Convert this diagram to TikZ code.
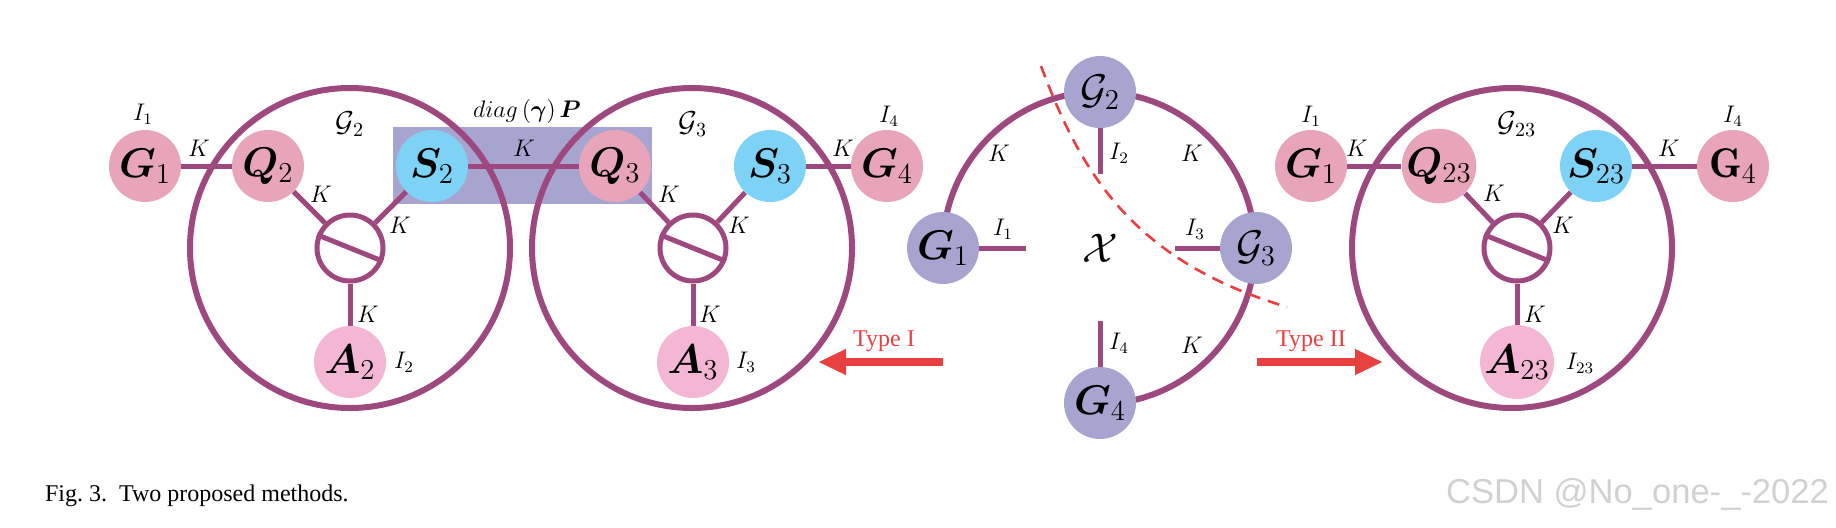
\documentclass[tikz,border=0pt]{standalone}
\usepackage{amsmath,amssymb,bm}
\usepackage{fontspec}
\newfontfamily\capfont{Liberation Serif}
\newfontfamily\wmfont{Liberation Sans}
\usetikzlibrary{arrows.meta}
\definecolor{plum}{RGB}{158,72,128}
\definecolor{rosa}{RGB}{232,165,185}
\definecolor{rosaA}{RGB}{243,182,212}
\definecolor{azul}{RGB}{125,210,245}
\definecolor{lila}{RGB}{167,165,207}
\definecolor{verm}{RGB}{232,64,63}
\begin{document}
\begin{tikzpicture}[x=0.5pt,y=-0.5pt]
        \tikzstyle{no}=[circle, minimum size=36pt, inner sep=0pt, font=\huge]
        \tikzstyle{rosa}=[no, fill=rosa]
        \tikzstyle{rosaA}=[no, fill=rosaA]
        \tikzstyle{azul}=[no, fill=azul]
        \tikzstyle{lila}=[no, fill=lila]
        \tikzstyle{anel}=[circle, draw=plum, line width=2.5pt, minimum size=33pt, inner sep=0pt]
        \tikzstyle{aresta}=[draw=plum, line width=2.5pt]
        \tikzstyle{rot}=[font=\large]
        \tikzstyle{seta}=[verm, line width=4pt, -{Triangle[length=14pt,width=12pt]}]

        \useasboundingbox (0,0) rectangle (1836,527);

        % left: two groups
        \fill[lila] (393,127) rectangle (652,204);
        \draw[plum, line width=3pt] (350,248) circle[radius=80pt];
        \draw[plum, line width=3pt] (692,248) circle[radius=80pt];

        \node[rosa] (G1) at (145,166) {$\bm{G}_1$};
        \node[rosa] (Q2) at (268,166) {$\bm{Q}_2$};
        \node[azul] (S2) at (432,166) {$\bm{S}_2$};
        \node[rosa] (Q3) at (615,166) {$\bm{Q}_3$};
        \node[azul] (S3) at (770,166) {$\bm{S}_3$};
        \node[rosa] (G4) at (887,166) {$\bm{G}_4$};
        \node[anel] (R2) at (350,248) {};
        \node[anel] (R3) at (693,248) {};
        \node[rosaA] (A2) at (350,362) {$\bm{A}_2$};
        \node[rosaA] (A3) at (693,362) {$\bm{A}_3$};

        \draw[aresta] (G1) -- (Q2);
        \draw[aresta] (S2) -- (Q3);
        \draw[aresta] (S3) -- (G4);
        \draw[aresta] (Q2) -- (R2);
        \draw[aresta] (S2) -- (R2);
        \draw[aresta] (R2) -- (A2);
        \draw[aresta] (R2.158) -- (R2.-22);
        \draw[aresta] (Q3) -- (R3);
        \draw[aresta] (S3) -- (R3);
        \draw[aresta] (R3) -- (A3);
        \draw[aresta] (R3.158) -- (R3.-22);

        \node[rot] at (143,114) {$I_1$};
        \node[rot] at (889,116) {$I_4$};
        \node[rot] at (404,362) {$I_2$};
        \node[rot] at (746,362) {$I_3$};
        \node[font=\Large] at (350,124) {$\mathcal{G}_2$};
        \node[font=\Large] at (693,124) {$\mathcal{G}_3$};
        \node[rot] at (527,111) {$diag\left(\bm{\gamma}\right)\bm{P}$};
        \foreach \x/\y in {199/148, 321/194, 400/225, 368/314, 524/148, 669/194, 739/225, 710/314, 843/148}
          \node[rot] at (\x,\y) {$K$};

        \node (T1) at (943,362) {};
        \node (T1e) at (818,362) {};
        \draw[seta] (T1.center) -- (T1e.center);
        \node[verm, font=\capfont\large] at (884,341) {Type I};

        % middle: the loop
        \draw[plum, line width=3pt] (943,248) arc[start angle=180, end angle=-90, radius=78pt];
        \node[lila] (M2) at (1100,92) {$\mathcal{G}_2$};
        \node[lila] (M1) at (943,248) {$\bm{G}_1$};
        \node[lila] (M3) at (1256,248) {$\mathcal{G}_3$};
        \node[lila] (M4) at (1100,403) {$\bm{G}_4$};
        \coordinate (p1) at (1026,248);
        \coordinate (p2) at (1100,174);
        \coordinate (p3) at (1175,248);
        \coordinate (p4) at (1100,321);
        \draw[aresta] (M1) -- (p1);
        \draw[aresta] (M2) -- (p2);
        \draw[aresta] (M3) -- (p3);
        \draw[aresta] (M4) -- (p4);
        \node[rot] at (1003,229) {$I_1$};
        \node[rot] at (1119,153) {$I_2$};
        \node[rot] at (1195,229) {$I_3$};
        \node[rot] at (1119,343) {$I_4$};
        \foreach \x/\y in {999/153, 1192/153, 1192/345}
          \node[rot] at (\x,\y) {$K$};
        \node[font=\huge] (X) at (1100,248) {$\mathcal{X}$};
        \draw[verm, line width=1.3pt, dash pattern=on 6pt off 4pt]
          (1041,66) .. controls (1080,170) and (1130,260) .. (1287,307);

        \node (T2) at (1257,362) {};
        \node (T2e) at (1383,362) {};
        \draw[seta] (T2.center) -- (T2e.center);
        \node[verm, font=\capfont\large] at (1311,341) {Type II};

        % right: merged group
        \draw[plum, line width=3pt] (1512,248) circle[radius=80pt];
        \node[rosa] (H1) at (1311,166) {$\bm{G}_1$};
        \node[rosa] (Q23) at (1439,166) {$\bm{Q}_{23}$};
        \node[azul] (S23) at (1596,166) {$\bm{S}_{23}$};
        \node[rosa] (H4) at (1733,166) {$\mathbf{G}_4$};
        \node[anel] (R23) at (1517,248) {};
        \node[rosaA] (A23) at (1517,362) {$\bm{A}_{23}$};
        \draw[aresta] (H1) -- (Q23);
        \draw[aresta] (S23) -- (H4);
        \draw[aresta] (Q23) -- (R23);
        \draw[aresta] (S23) -- (R23);
        \draw[aresta] (R23) -- (A23);
        \draw[aresta] (R23.158) -- (R23.-22);
        \node[rot] at (1311,116) {$I_1$};
        \node[rot] at (1733,116) {$I_4$};
        \node[rot] at (1580,363) {$I_{23}$};
        \node[font=\Large] at (1517,124) {$\mathcal{G}_{23}$};
        \foreach \x/\y in {1357/148, 1669/148, 1494/193, 1563/225, 1535/314}
          \node[rot] at (\x,\y) {$K$};

        \node[anchor=west, font=\capfont\large] at (38,496) {Fig.~3.\ \ Two proposed methods.};
        \node[anchor=east, text=black!18, font=\wmfont\LARGE] at (1836,494) {CSDN @No\_one-\_-2022};
\end{tikzpicture}
\end{document}
